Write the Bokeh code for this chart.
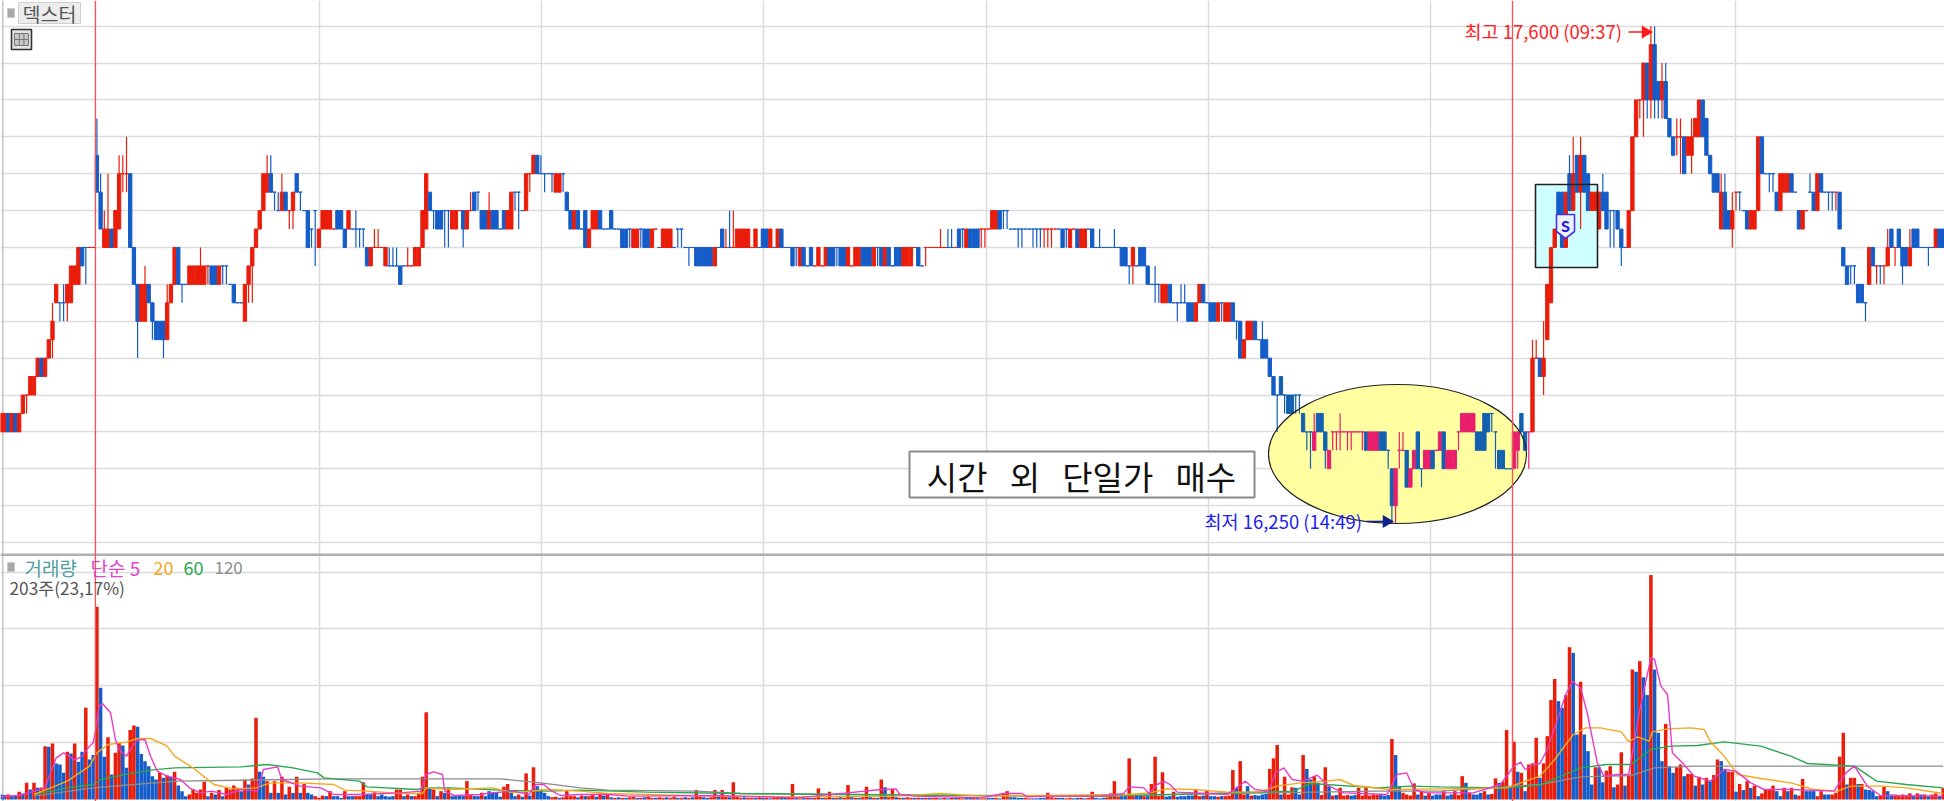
from bokeh.plotting import figure
from bokeh.embed import file_html
from bokeh.resources import INLINE
from bokeh.models import Range1d, LinearScale, FixedTicker, Grid
from bokeh.core.properties import value
import math

# ---- price data: ticks of 50 won above 16,250 (0 = 16,250, 27 = 17,600) ----
open_lv = [
5,5,6,5,6,5,6,7,7,7, 8,9,8,9,10,12,12,12,12,12, 13,13,15,15,15,15,20,18,15,15,
16,15,16,19,19,19,15,13,11,11, 13,12,11,11,11,10,12,13,15,13, 13,13,13,13,13,13,14,14,14,13,
14,14,13,13,12,12,11,13,14,15, 16,17,18,19,18,17,17,18,17,17, 19,18,17,17,16,17,15,16,16,16,
16,17,17,16,16,16,16,16,16,15, 14,15,15,15,14,14,14,14,14,14, 14,14,14,14,15,16,18,17,17,17,
17,17,16,16,17,17,16,17,18,18, 17,17,16,17,17,16,17,16,16,18, 18,17,17,19,19,20,19,19,19,19,
18,18,19,18,17,16,17,16,17,15, 16,16,17,16,16,17,16,16,16,16, 16,15,15,16,16,16,15,16,15,15,
15,15,15,16,16,15,15,15,15,15, 15,15,15,14,15,16,15,15,15,15, 15,15,15,15,15,15,16,16,15,15,
15,16,15,15,15,15,14,15,14,15, 14,14,14,14,15,15,15,15,15,14, 14,14,14,15,15,15,14,15,15,14,
15,14,15,15,14,14,14,15,15,14, 15,15,15,15,15,15,15,15,15,16, 16,15,16,16,16,16,16,16,16,16,
17,17,17,16,16,16,16,16,16,16, 16,16,16,16,16,16,16,16,16,15, 16,16,15,15,16,16,15,15,15,15,
15,15,15,15,15,14,14,14,15,15, 14,13,13,13,12,12,13,12,12,12, 12,12,12,11,12,13,12,12,12,11,
12,11,11,12,11,11,9,10,10,11, 10,10,10,9,8,7,8,7,7,7, 7,7,6,5,5,4,6,6,5,3,
5,5,5,5,5,5,5,5,5,5, 4,4,4,5,5,4,3,1,4,4, 4,2,3,5,3,3,3,4,4,4,
5,3,3,3,5,5,5,5,5,5, 5,6,6,6,5,4,4,3,3,3, 4,6,5,5,5,9,9,8,10,12,
15,18,18,15,19,17,20,18,20,19, 17,17,16,18,18,17,17,17,16,15, 15,17,21,23,23,25,23,26,24,23,
24,22,21,21,21,21,20,20,21,21, 23,22,20,19,19,16,18,17,16,18, 18,17,17,16,16,17,21,19,19,19,
18,17,18,18,19,18,17,16,17,18, 18,17,19,18,18,18,18,18,15,14, 14,14,13,13,12,13,15,14,14,14,
14,16,15,16,15,15,14,16,16,15, 15,15,15,15,16,16]
close_lv = [
6,6,5,6,5,6,7,7,8,8, 9,8,9,10,11,13,12,12,13,14, 14,15,14,15,15,15,18,16,16,16,
15,17,19,19,19,15,13,11,13,13, 12,11,10,10,10,12,13,15,13,13, 13,14,14,14,14,14,14,13,13,14,
14,14,13,12,12,12,13,14,15,16, 17,19,19,18,18,17,18,17,17,18, 18,18,17,15,16,17,16,17,17,17,
16,16,16,15,17,16,16,16,16,14, 15,15,15,15,15,14,14,14,13,14, 14,14,15,15,17,19,17,17,16,16,
17,17,17,17,17,16,17,17,17,18, 16,16,17,16,16,16,16,17,18,18, 18,17,19,19,20,19,19,19,19,19,
19,19,19,17,16,17,16,16,15,16, 17,17,16,16,16,16,16,16,15,15, 16,16,16,16,15,15,16,16,15,16,
16,16,15,16,16,15,15,15,14,14, 14,14,14,15,15,15,15,15,15,16, 16,16,16,15,16,15,15,15,16,15,
16,15,15,15,14,15,15,14,14,14, 14,15,14,15,14,14,15,14,14,15, 14,15,15,14,14,14,15,15,14,15,
14,14,14,14,15,15,15,15,14,14, 15,15,15,15,15,15,15,15,15,15, 16,16,15,15,15,16,16,16,17,17,
16,17,17,16,16,16,16,16,16,16, 16,16,16,16,16,16,16,15,16,16, 16,15,16,16,16,15,15,15,15,15,
15,15,15,14,14,14,15,14,14,14, 13,13,13,13,13,13,12,12,12,12, 12,11,11,12,13,12,12,11,11,12,
12,12,12,11,11,9,10,11,11,10, 10,9,9,8,7,7,7,7,6,6, 7,7,5,5,5,5,5,5,4,4,
5,5,5,5,5,5,5,5,5,4, 5,5,5,4,4,4,1,3,4,4, 2,3,4,3,3,4,4,3,4,5,
3,4,4,4,5,6,6,6,6,4, 4,4,5,6,5,3,3,3,3,5, 5,5,4,5,9,9,8,9,13,15,
16,16,15,18,17,19,18,20,18,17, 18,18,18,17,16,17,17,16,15,15, 17,21,23,23,25,23,26,23,23,24,
22,21,20,21,21,19,21,21,22,23, 21,20,19,18,18,18,16,16,17,18, 18,17,16,17,17,21,19,19,19,19,
17,19,19,19,18,18,16,17,17,18, 17,19,18,18,18,18,18,16,14,13, 14,14,12,12,12,15,14,14,14,14,
15,15,15,15,14,14,15,15,15,15, 15,15,15,16,15,15]
high_wick = {14:12,17:13,26:22,27:19,28:17,29:19,32:20,33:20,34:21,39:14,45:13,54:15,72:20,73:20,75:18,76:19,
    96:17,101:16,102:16,105:15,106:15,107:15,110:15,127:18,132:18,146:20,196:16,197:17,198:17,254:16,256:16,
    257:16,297:16,301:16,312:14,319:13,320:13,341:11,355:6,362:6,378:5,379:5,414:10,415:10,417:11,424:20,425:21,
    427:21,433:19,446:27,447:27,449:25,450:25,453:22,454:22,457:22,465:19,466:19,468:18,489:19,510:16,516:16}
low_wick = {7:6,14:9,16:11,17:11,18:11,23:13,33:18,34:18,37:9,41:10,44:9,49:12,56:13,60:13,61:13,67:12,68:12,
    74:17,78:16,79:16,81:17,84:15,85:14,96:15,97:15,98:15,117:16,120:15,121:15,125:15,129:17,139:17,140:16,
    143:18,147:18,149:18,152:18,170:15,173:15,183:15,184:15,186:14,215:14,226:14,237:14,250:14,260:15,265:15,
    266:15,271:16,272:16,275:15,276:15,279:15,280:15,281:15,282:15,283:15,284:15,288:15,305:13,306:13,312:12,
    313:12,318:11,330:11,334:10,345:5,347:6,350:6,351:6,353:4,354:3,358:3,360:4,361:4,362:4,364:4,365:4,368:4,
    375:3,376:0,377:0,378:3,384:2,394:4,403:5,404:3,410:3,413:3,417:7,427:16,435:15,436:15,438:14,443:22,444:21,
    445:22,446:22,447:22,448:22,449:22,453:20,454:19,457:19,468:15,469:17,470:17,478:18,479:18,494:17,495:17,
    496:17,500:13,501:13,504:11,507:13,508:13,509:13,512:14,514:13,521:14}
red_doji = {7,24,25,33,34,56,78,90,101,102,103,110,111,124,127,143,177,196,198,203,220,222,230,247,250,251,252,
    253,254,255,258,265,266,267,282,283,284,285,290,360,361,362,363,364,365,366,367,368,378,379,388,394,413,415,
    443,453,454,469,488,496,507,509,512}

# ---- volume, shares: positive bars red, negative bars blue ----
volume = [
-90,-80,90,-70,-80,140,-110,300,-180,300, -210,215,960,-950,1010,-650,-630,-480,860,-830,
1010,-680,-860,1650,-720,-800,3470,-2010,-770,1120, -450,840,1020,-970,-570,1250,1330,-1310,-820,-690,
-600,-420,-360,480,-390,430,-410,500,-250,-150, -60,90,180,120,180,320,-60,120,-90,170,
-60,210,180,250,210,-150,360,-270,380,1470, -500,-410,330,-120,330,-120,410,-90,230,-120,
410,-120,280,-120,-90,60,30,70,-60,150, -60,-60,-30,150,-60,-60,60,60,310,-90,
-90,130,-60,-90,-60,-50,-60,180,180,-60, 90,-60,60,120,410,1570,-210,180,-60,150,
-120,210,-60,-60,-70,-60,330,90,-60,-60, 120,-60,-150,-120,-120,-50,230,280,-120,-60,
90,-50,470,-70,580,-240,-180,-120,-60,40, 50,-30,40,150,60,60,-40,70,-60,60,
80,-50,110,-70,110,-40,30,-40,30,-30, 40,50,-30,30,-40,50,30,-30,40,30,
-40,30,50,-30,30,-40,30,-40,170,50, -40,-30,40,170,-50,170,50,-40,310,60,
30,-40,30,30,-30,40,-30,30,-20,30, 30,-30,-40,50,280,-30,20,-30,30,-30,
30,200,-30,30,140,-30,30,-40,30,260, -40,30,-30,40,230,-40,30,-30,360,-220,
40,190,-40,30,-30,40,30,-30,30,-30, 30,-30,30,30,-20,30,-20,30,-30,30,
20,-30,-30,30,-30,20,20,-30,-30,30, -20,110,150,-40,-40,-30,-30,30,20,-20,
-20,-30,-30,120,40,30,-30,-30,20,30, -20,-30,30,-20,30,140,-30,-20,-30,40,
110,330,50,-60,-60,740,60,-70,-70,60, -60,280,770,60,490,-50,-60,140,-50,-60,
-60,-70,-70,180,60,-70,160,-60,-60,50, -60,60,70,530,-210,690,90,-240,70,-80,
-70,-90,-100,550,740,980,-90,410,90,220, -210,-90,800,-550,-360,420,-300,80,580,-240,
70,-80,210,70,80,-70,-80,210,70,210, 70,90,80,-80,-70,-80,1090,-800,-240,120,
90,70,290,-90,140,-70,120,-70,-90,-90, 150,-70,-90,150,80,420,-300,120,-90,-90,
-120,150,-90,100,380,-300,320,1250,-210,1040, -500,480,-150,630,650,1110,-390,650,1140,1790,
2170,-1770,-1650,1880,2740,-2640,-1170,2120,-1170,-870, -270,580,-580,-310,520,600,-220,270,850,-250,
450,2340,-2300,2490,-2200,-1880,4040,-2340,-1200,-690, 1360,-600,-480,580,630,-420,460,460,-250,410,
-270,390,-330,440,720,-690,-540,500,500,-140, 280,-170,330,-210,250,-60,110,180,190,250,
-150,-60,210,-150,210,-90,70,370,-150,-150, -150,60,150,-90,-90,90,120,770,1200,-270,
390,390,-280,280,-180,-170,-150,-60,70,230, -150,-90,90,60,90,60,110,-60,110,-90,
90,-60,90,110,-60,203]

# ---- moving-average lines: minute index and shares ----
ma5_idx = [0,5,9,12,13.5,15,17,18.5,20,22,24,25,25.7,26.6,27.5,29.7,31,32,34,35.6,37,39,40.5,42.3,45,48.6,51,54,57,61,65,69.4,71,74.8,76,81,86.5,90,97,108,113.5,115,117,119.4,120,122.5,130,132.4,138.7,142.8,144.6,146.8,149,151.3,156.7,164,170,193,200,215,228.8,238,242,243,247,265,271,276,277.4,282.8,297,303.5,305,309,310.3,312.6,314.4,316,318,331.5,334,336.4,339,342.7,344.5,346.8,349,352,355.8,359,363,374.7,377.4,380,382,385.5,394,398,405.4,409,410.8,412,414.4,416,418,420.3,423,424.8,427,428.8,431.5,433.3,437,440,443,446,447,448.7,450.5,451.8,454.5,457.7,462,465.8,469,473,476.6,483.8,495.5,498.7,501,504.5,508,525]
ma5_vol = [48,72,150,210,480,750,840,780,708,780,960,1020,1260,1680,1728,1560,1080,900,780,960,1068,1080,780,510,420,360,210,120,150,90,180,150,540,588,360,240,210,90,90,120,150,450,498,450,150,72,90,120,150,90,270,270,150,72,90,90,60,72,60,30,120,180,192,90,60,30,108,108,48,60,60,108,228,210,108,270,330,270,132,90,210,330,180,150,480,570,360,330,438,240,120,90,450,480,180,120,120,120,270,600,672,540,630,648,900,1350,1890,2130,2010,1560,660,420,450,450,1620,2550,2520,2040,1890,840,660,420,330,540,510,300,180,180,150,480,600,240,72,60]
ma20_idx = [9,13.5,18,24,26,29,34,37,40.5,45,47,52,57.6,63,69,73,81,90,93,99,108,114,115,121.6,133,138.7,147.7,156.7,164,193,215,242,254,265,304.4,310.7,315,322.5,331.5,340,345,351.3,358.5,362,365.7,375.6,389,407,416,420,425,428.4,432.4,438,440,442.4,445.5,446.4,450.5,456.8,460.4,462,465.8,469.4,475.7,483.8,490,496.4,500,509,515,525]
ma20_vol = [90,210,330,600,840,990,1032,1098,1098,960,780,570,270,192,210,300,300,270,168,150,108,108,210,180,210,120,180,150,108,60,48,60,108,60,90,120,192,180,132,138,240,300,330,360,252,180,192,210,420,720,1170,1290,1290,1218,1040,1128,1050,1218,1272,1290,1260,1050,780,450,378,300,180,150,240,240,210,108]
ma60_idx = [9,13.5,18,25,27,36,40.5,47,65,72,79,85.6,87.4,97,99,112.6,114.4,121.6,135,147.7,156.7,174.7,200,256,297,331.5,349.5,354,372,381,389,407,416,427,434,440.6,446,451.4,458.6,465.8,475.7,483.8,488.3,501,507,515,525]
ma60_vol = [90,150,210,270,360,480,528,570,588,630,570,480,390,330,228,180,210,210,168,150,168,132,108,72,60,120,150,288,210,240,228,210,258,570,630,630,900,960,972,1038,960,780,648,600,330,270,210]
ma120_idx = [9,25,36,47.7,90,135,146,156.7,164,188,200,256,297,331.5,372,389,416,427,440.6,447,457.7,479,525]
ma120_vol = [60,210,270,330,372,372,300,210,168,150,108,78,60,108,150,150,270,408,432,570,600,600,600]

# ---- scale: one minute 3.7 px, 50 won 18.44 px, 1 px of bar 18 shares ----
BASE_PRICE, TICK_WON = 16250, 50
hour_idx = [86.2, 146.2, 206.2, 266.4, 326.4, 386.4, 468.9]
day_idx = [25.6, 408.6]
price_grid = list(range(16200, 17700, 100))
volume_grid = [1030, 2050, 3070, 4090]

PX_PER_MIN, PX_PER_WON, SHARES_PER_PX = 3.7, 0.3688, 18.0
def X(px): return (px - 0.2) / PX_PER_MIN
def Y(py): return 17600 + (25.7 - py) / PX_PER_WON

RED, BLUE, PINK, DEEP = "#ea1c0a", "#145cc8", "#e81e6c", "#1460b0"
KR = value("Noto Sans CJK KR")

p = figure(width=1944, height=801, output_backend="svg", toolbar_location=None,
           x_range=Range1d(X(0), X(1944)), y_range=Range1d(Y(801), Y(0)),
           min_border=0, min_border_left=0, min_border_right=0, min_border_top=0, min_border_bottom=0,
           outline_line_color=None, background_fill_color="white", border_fill_color="white")
p.extra_y_ranges = {"vol": Range1d(-2 * SHARES_PER_PX, 799 * SHARES_PER_PX)}
p.extra_y_scales = {"vol": LinearScale()}
p.xaxis.visible = False
p.yaxis.visible = False
p.xgrid.ticker = FixedTicker(ticks=hour_idx)
p.xgrid.grid_line_color = "#dcdcdc"
p.xgrid.grid_line_width = 1.5
p.ygrid.ticker = FixedTicker(ticks=price_grid)
p.ygrid.grid_line_color = "#dcdcdc"
p.ygrid.grid_line_width = 1.5
p.add_layout(Grid(dimension=1, ticker=FixedTicker(ticks=volume_grid), y_range_name="vol",
                  grid_line_color="#dcdcdc", grid_line_width=1.5))

def px_rect(x0, y0, x1, y1, **kw):
    p.quad(left=[X(x0)], right=[X(x1)], top=[Y(y0)], bottom=[Y(y1)], **kw)
def label(px, py, txt, color, size="15px", align="left", style="normal"):
    p.text(x=[X(px)], y=[Y(py)], text=[txt], text_font=KR, text_font_size=size, text_color=color,
           text_baseline="middle", text_align=align, text_font_style=style)

# panes
px_rect(1.5, 0, 3, 801, fill_color="#c4c4c4", line_color=None)
px_rect(0, 553, 1944, 555.5, fill_color="#b0b0b0", line_color=None)

# highlights under the candles
ell_x, ell_y, ell_w, ell_h = X(1397), Y(453.5), 258 / PX_PER_MIN, 139 / PX_PER_WON
p.ellipse(x=[ell_x], y=[ell_y], width=[ell_w], height=[ell_h], fill_color="#ffff99", fill_alpha=0.92, line_color=None)
px_rect(1535, 184, 1597, 267, fill_color="#ccffff", fill_alpha=0.92, line_color=None)

# volume bars
n = len(volume)
idx = list(range(n))
p.vbar(x=idx, width=0.95, bottom=0, top=[abs(v) for v in volume],
       fill_color=[RED if v > 0 else BLUE for v in volume], line_color=None, y_range_name="vol")

# moving averages
for xs, ys, col in ((ma120_idx, ma120_vol, "#8c8c8c"), (ma60_idx, ma60_vol, "#2aa84f"),
                    (ma20_idx, ma20_vol, "#f5a81f"), (ma5_idx, ma5_vol, "#e63cc8")):
    p.line(xs, ys, line_color=col, line_width=1.4, y_range_name="vol")

# candles
def price(lv): return BASE_PRICE + TICK_WON * lv
def colour(i):
    up = close_lv[i] > open_lv[i] or (close_lv[i] == open_lv[i] and i in red_doji)
    inside = 345 <= i <= 413
    if up:
        return PINK if inside else RED
    return DEEP if inside else BLUE
m = len(open_lv)
cols = [colour(i) for i in range(m)]
tops = [price(max(open_lv[i], close_lv[i])) for i in range(m)]
bots = [price(min(open_lv[i], close_lv[i])) for i in range(m)]
wi = sorted(set(high_wick) | set(low_wick))
p.segment(x0=wi, x1=wi,
          y0=[price(high_wick.get(i, max(open_lv[i], close_lv[i]))) for i in wi],
          y1=[price(low_wick.get(i, min(open_lv[i], close_lv[i]))) for i in wi],
          line_color=[cols[i] for i in wi], line_width=1.2)
p.vbar(x=list(range(m)), width=0.9, top=tops, bottom=bots, fill_color=cols, line_color=cols, line_width=1)

# outlines over the candles
p.ellipse(x=[ell_x], y=[ell_y], width=[ell_w], height=[ell_h], fill_color=None, line_color="#222222", line_width=1.2)
px_rect(1535, 184, 1597, 267, fill_color=None, line_color="#222222", line_width=1.6)
p.segment(x0=day_idx, x1=day_idx, y0=[Y(0)] * 2, y1=[Y(801)] * 2, line_color="#ea5a5a", line_width=1.4)

# S marker
sx = [1556, 1574, 1574, 1565, 1556]
sy = [214, 214, 231, 238, 231]
p.patch([X(v) for v in sx], [Y(v) for v in sy], fill_color="#eef2ff", line_color="#4a32e8", line_width=1.6)
label(1565, 225, "S", "#2a22d8", "15px", "center", "bold")

# annotation box
px_rect(909, 451, 1254, 497, fill_color="white", line_color="#8a8a8a", line_width=2)
label(1081, 475, "시간\u00a0\u00a0\u00a0외\u00a0\u00a0\u00a0단일가\u00a0\u00a0\u00a0매수", "#111111", "33px", "center")

# high and low notes
label(1464, 30, "최고 17,600 (09:37)", "#ff2222", "18.5px")
p.segment(x0=[X(1628)], x1=[X(1647)], y0=[Y(31.5)], y1=[Y(31.5)], line_color="#ff1a1a", line_width=1.6)
p.scatter(x=[X(1645)], y=[Y(31.5)], marker="triangle", size=13, angle=-math.pi / 2, fill_color="#ff1a1a", line_color=None)
label(1204, 520, "최저 16,250 (14:49)", "#2222ee", "18.5px")
p.segment(x0=[X(1366)], x1=[X(1388)], y0=[Y(521)], y1=[Y(521)], line_color="#10208c", line_width=1.6)
p.scatter(x=[X(1386)], y=[Y(521)], marker="triangle", size=13, angle=-math.pi / 2, fill_color="#10208c", line_color=None)

# top-left controls
px_rect(7, 8, 14, 17, fill_color="#a8a8a8", line_color="#cccccc", line_width=1)
px_rect(18, 2, 80, 23, fill_color="#ececec", line_color="#d0d0d0", line_width=1)
label(49, 13, "덱스터", "#555555", "19.5px", "center")
px_rect(11, 29, 31, 49, fill_color="#e4e4e4", line_color="#333333", line_width=1.6)
px_rect(14, 33, 28, 45, fill_color="#c8c8c8", line_color="#777777", line_width=1)
p.segment(x0=[X(18.7), X(23.4), X(14)], x1=[X(18.7), X(23.4), X(28)],
          y0=[Y(33), Y(33), Y(39)], y1=[Y(45), Y(45), Y(39)], line_color="#777777", line_width=1)

# volume legend
px_rect(7, 562, 14, 571, fill_color="#a8a8a8", line_color="#cccccc", line_width=1)
label(24, 567, "거래량", "#4f9fa0", "19px")
label(90, 567, "단순 5", "#e244c8", "19px")
label(153, 567, "20", "#f5a81f", "18px")
label(183, 567, "60", "#2aa84f", "18px")
label(214, 567, "120", "#8c8c8c", "17px")
label(9, 587, "203주(23,17%)", "#555555", "17.3px")

open("out.html", "w").write(file_html(p, INLINE))
